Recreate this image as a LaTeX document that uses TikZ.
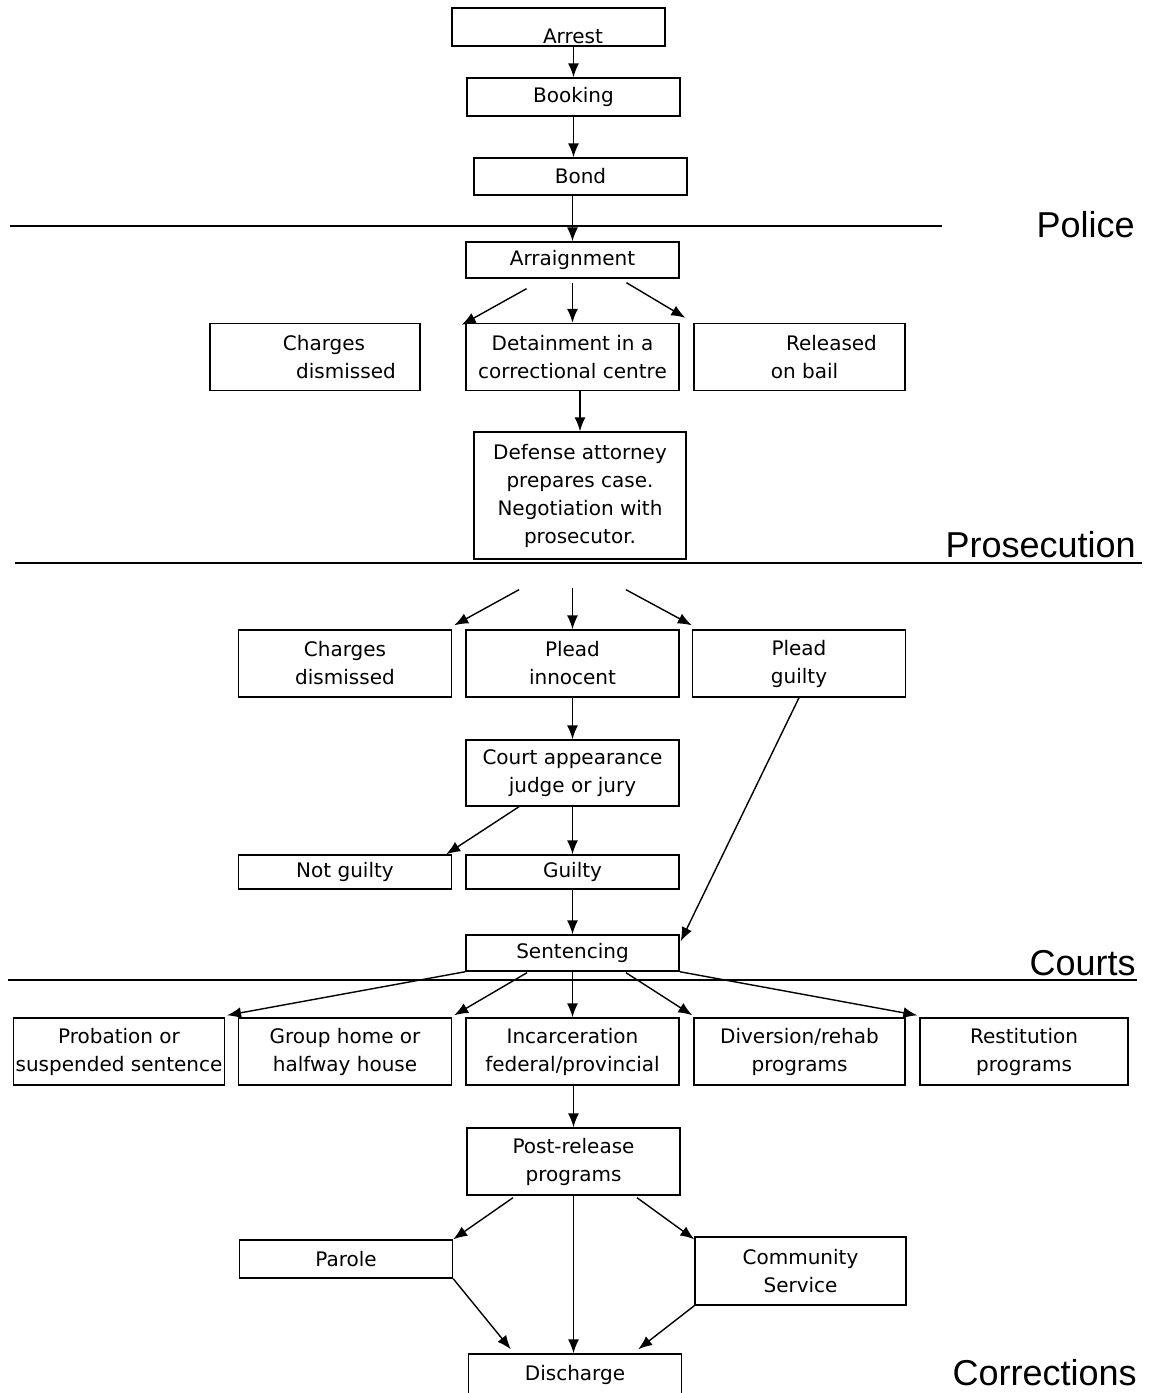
\documentclass[tikz,border=0pt]{standalone}
\usepackage{fontspec}
\setmainfont{DejaVu Sans}
\newfontfamily\secfont{Liberation Sans}
\usepackage{tikz}
\usetikzlibrary{calc,arrows.meta}

\begin{document}
\begin{tikzpicture}[x=0.5pt, y=-0.5pt,
  box/.style={draw, rectangle, line width=0.7pt, minimum width=106.5pt, minimum height=19pt, inner sep=1pt, align=center, font=\fontsize{10}{14}\selectfont},
  tall/.style={box, minimum height=33.5pt},
  sez/.style={anchor=base east, inner sep=0pt, font=\secfont\fontsize{18}{20}\selectfont},
  arco/.style={line width=0.7pt, -{Latex[length=7pt,width=5.5pt]}}]

\useasboundingbox (0,0) rectangle (1152,1393);

% Linee di separazione
\draw[line width=0.7pt] (10,226) -- (942,226);
\draw[line width=0.7pt] (15,563) -- (1142,563);
\draw[line width=0.7pt] (8,980) -- (1137,980);
\node[sez] (police) at (1135,237) {Police};
\node[sez] (prosec) at (1136,557) {Prosecution};
\node[sez] (courts) at (1136,975) {Courts};
\node[sez] (correct) at (1137,1385) {Corrections};

% Polizia
\node[box] (arrest) at (558.5,27) {};
\node[inner sep=0pt, font=\fontsize{10}{14}\selectfont] (arresttxt) at (573,36) {Arrest};
\node[box] (booking) at (573.5,97) {Booking};
\node[box, minimum height=18.5pt] (bond) at (580.5,176.5) {Bond};

% Accusa
\node[box, minimum height=18pt] (arraign) at (572.5,260) {Arraignment};
\node[tall, minimum width=105pt] (chg1) at (315,357) {\hspace*{9pt}Charges\\\hspace*{31pt}dismissed};
\node[tall] (det) at (572.5,357) {Detainment in a\\correctional centre};
\node[tall, minimum width=105.5pt] (bail) at (799.5,357) {\hspace*{32pt}Released\\\hspace*{5pt}on bail};
\node[box, minimum width=106pt, minimum height=63.5pt] (defense) at (580,495.5) {Defense attorney\\prepares case.\\Negotiation with\\prosecutor.};

% Tribunali
\node[tall] (chg2) at (345,663.5) {Charges\\dismissed};
\node[tall] (innocent) at (572.5,663.5) {Plead\\innocent};
\node[tall] (pleadg) at (799,663.5) {Plead\\guilty};
\node[tall, minimum height=33pt] (court) at (572.5,773) {Court appearance\\judge or jury};
\node[box, minimum height=17pt] (notg) at (345,872) {Not guilty};
\node[box, minimum height=17pt] (guilty) at (572.5,872) {Guilty};
\node[box, minimum height=18pt] (sent) at (572.5,953) {Sentencing};

% Pene
\node[tall, minimum width=105pt] (prob) at (119,1051.5) {Probation or\\suspended sentence};
\node[tall] (group) at (345,1051.5) {Group home or\\halfway house};
\node[tall] (incar) at (572.5,1051.5) {Incarceration\\federal/provincial};
\node[tall, minimum width=105.5pt] (divers) at (799.5,1051.5) {Diversion/rehab\\programs};
\node[tall, minimum width=104pt] (restit) at (1024,1051.5) {Restitution\\programs};

% Dopo il rilascio
\node[tall] (post) at (573.5,1161.5) {Post-release\\programs};
\node[box] (parole) at (346,1259) {Parole};
\node[tall, minimum width=105.5pt, minimum height=34pt] (comm) at (800.5,1271) {Community\\Service};
\node[box, minimum height=21pt] (disch) at (575,1375) {Discharge};

% Archi
\draw[arco] (arrest.south -| booking.north) -- (booking.north);
\draw[arco] (booking.south) -- (booking.south |- bond.north);
\draw[arco] (bond.south -| arraign.north) -- (arraign.north);
\draw[arco] ($(arraign.south)+(-46,10)$) -- ($(chg1.north east)+(41,2)$);
\draw[arco] ($(arraign.south)+(0,4)$) -- (det.north);
\draw[arco] ($(arraign.south)+(54,4)$) -- ($(bail.north west)+(-8,-5)$);
\draw[arco] (det.south -| defense.north) -- (defense.north);
\draw[arco] ($(defense.south)+(-61,30)$) -- ($(chg2.north east)+(2,-4)$);
\draw[arco] ($(defense.south -| innocent.north)+(0,28)$) -- (innocent.north);
\draw[arco] ($(defense.south)+(46,30)$) -- ($(pleadg.north west)+(0,-4)$);
\draw[arco] (innocent.south) -- (court.north);
\draw[arco] ($(court.south)+(-53.5,0)$) -- ($(notg.north east)+(-6,0)$);
\draw[arco] (court.south) -- (guilty.north);
\draw[arco] (guilty.south) -- (sent.north);
\draw[arco] (pleadg.south) -- ($(sent.north east)+(1,7)$);
\draw[arco] (sent.south west) -- ($(prob.north east)+(2,-2)$);
\draw[arco] ($(sent.south)+(-45.5,1)$) -- ($(group.north east)+(2,-2)$);
\draw[arco] (sent.south) -- (incar.north);
\draw[arco] ($(sent.south)+(53.5,1)$) -- ($(divers.north west)+(-1,-2)$);
\draw[arco] (sent.south east) -- ($(restit.north west)+(-2,-2)$);
\draw[arco] (incar.south -| post.north) -- (post.north);
\draw[arco] ($(post.south)+(-60.5,2)$) -- (parole.north east);
\draw[arco] ($(post.south)+(63.5,2)$) -- ($(comm.north west)+(0,3)$);
\draw[arco] (post.south) -- (post.south |- disch.north);
\draw[arco] (parole.south east) -- ($(disch.north west)+(43,-4)$);
\draw[arco] (comm.south west) -- ($(disch.north east)+(-44,-4)$);

\end{tikzpicture}
\end{document}
